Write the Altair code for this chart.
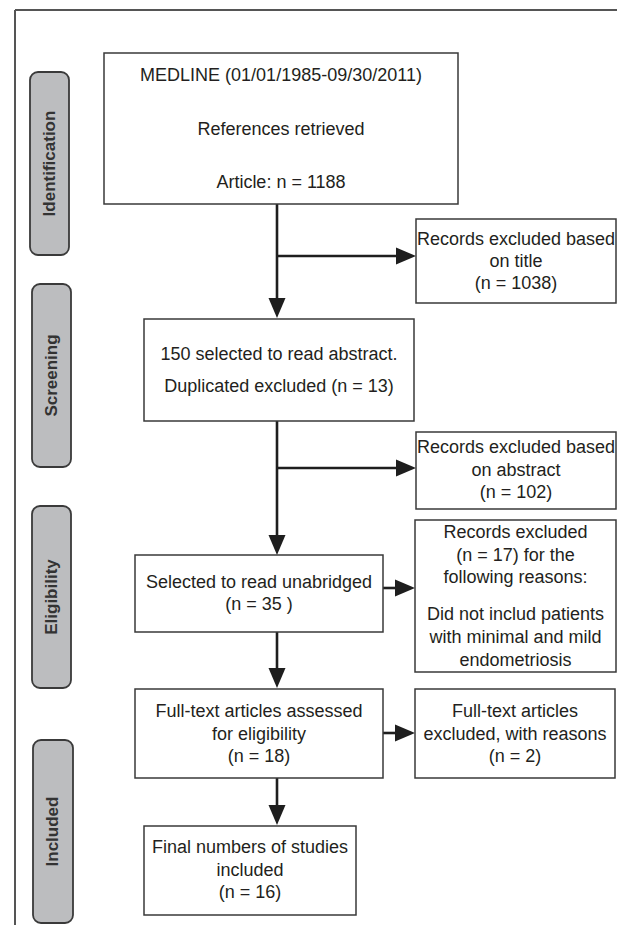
import altair as alt
import pandas as pd

# ---- content (text of the PRISMA flow diagram) ----
stage_labels = ["Identification", "Screening", "Eligibility", "Included"]

box_texts = [
    ["MEDLINE (01/01/1985-09/30/2011)", "References retrieved", "Article: n = 1188"],
    ["Records excluded based", "on title", "(n = 1038)"],
    ["150 selected to read abstract.", "Duplicated excluded (n = 13)"],
    ["Records excluded based", "on abstract", "(n = 102)"],
    ["Records excluded", "(n = 17) for the", "following reasons:",
     "Did not includ patients", "with minimal and mild", "endometriosis"],
    ["Selected to read unabridged", "(n = 35 )"],
    ["Full-text articles assessed", "for eligibility", "(n = 18)"],
    ["Full-text articles", "excluded, with reasons", "(n = 2)"],
    ["Final numbers of studies", "included", "(n = 16)"],
]

# ---- layout (page pixel coordinates) ----
stage_geom = [(30, 72, 69, 255), (32, 284, 71, 467), (32, 506, 71, 688), (33, 740, 73, 923)]
box_geom = [
    (104, 53, 458, 204),
    (416, 219, 616, 303),
    (144, 319, 414, 421),
    (416, 432, 616, 509),
    (415, 520, 616, 672),
    (135, 555, 383, 632),
    (135, 689, 383, 778),
    (415, 689, 615, 778),
    (144, 826, 356, 915),
]
line_ys = [
    [76, 130, 183],
    [240, 262, 284],
    [355, 387],
    [448, 471, 493],
    [533, 556, 578, 615, 638, 661],
    [583, 605],
    [712, 735, 757],
    [712, 735, 757],
    [848, 871, 893],
]
segments = [
    (277, 204, 277, 300), (277, 256, 398, 256),
    (277, 421, 277, 537), (277, 468, 398, 468),
    (383, 588, 397, 588),
    (277, 632, 277, 670), (383, 733, 397, 733),
    (277, 778, 277, 807),
]
heads_down = [(277, 308), (277, 545), (277, 678), (277, 815)]
heads_right = [(406, 256), (406, 468), (405, 588), (405, 733)]

# ---- build tables ----
stages = pd.DataFrame([
    dict(label=l, x=g[0], y=g[1], x2=g[2], y2=g[3], cx=(g[0] + g[2]) / 2, cy=(g[1] + g[3]) / 2)
    for l, g in zip(stage_labels, stage_geom)
])
boxes = pd.DataFrame([dict(x=g[0], y=g[1], x2=g[2], y2=g[3]) for g in box_geom])
rows = []
for texts, g, ys in zip(box_texts, box_geom, line_ys):
    for t, yy in zip(texts, ys):
        rows.append(dict(text=t, x=(g[0] + g[2]) / 2, y=yy))
lines = pd.DataFrame(rows)
segs = pd.DataFrame([dict(x=a, y=b, x2=c, y2=d) for a, b, c, d in segments])
hd = pd.DataFrame([dict(x=a, y=b) for a, b in heads_down])
hr = pd.DataFrame([dict(x=a, y=b) for a, b in heads_right])
frame = pd.DataFrame([dict(x=15, y=10, x2=15, y2=930), dict(x=15, y=10, x2=630, y2=10)])

W, H = 609, 917
xs = alt.Scale(domain=[8, 8 + W], nice=False, zero=False)
ys = alt.Scale(domain=[8, 8 + H], nice=False, zero=False, reverse=True)
X = lambda f: alt.X(f, type="quantitative", scale=xs, axis=None)
Y = lambda f: alt.Y(f, type="quantitative", scale=ys, axis=None)

frame_l = alt.Chart(frame).mark_rule(color="#555555", strokeWidth=2).encode(
    x=X("x"), y=Y("y"), x2="x2", y2="y2")

pills = alt.Chart(stages).mark_rect(
    fill="#bcbdbf", stroke="#3a3a3a", strokeWidth=1.8, cornerRadius=8).encode(
    x=X("x"), y=Y("y"), x2="x2", y2="y2")
pill_text = alt.Chart(stages).mark_text(
    angle=270, font="Liberation Sans", fontWeight="bold", fontSize=17,
    color="#333333", align="center", baseline="middle").encode(
    x=X("cx"), y=Y("cy"), text="label")

box_l = alt.Chart(boxes).mark_rect(fill="white", stroke="#3a3a3a", strokeWidth=1.5).encode(
    x=X("x"), y=Y("y"), x2="x2", y2="y2")
text_l = alt.Chart(lines).mark_text(
    font="Liberation Sans", fontSize=18, color="#231f20",
    align="center", baseline="middle").encode(
    x=X("x"), y=Y("y"), text="text")

seg_l = alt.Chart(segs).mark_rule(color="#1e1e1e", strokeWidth=2.6).encode(
    x=X("x"), y=Y("y"), x2="x2", y2="y2")
hd_l = alt.Chart(hd).mark_point(
    shape="M -0.85 -1 L 0.85 -1 L 0 1 Z", size=400, filled=True,
    color="#1e1e1e", opacity=1, strokeWidth=0).encode(x=X("x"), y=Y("y"))
hr_l = alt.Chart(hr).mark_point(
    shape="M -1 -0.85 L 1 0 L -1 0.85 Z", size=400, filled=True,
    color="#1e1e1e", opacity=1, strokeWidth=0).encode(x=X("x"), y=Y("y"))

chart = alt.layer(frame_l, pills, pill_text, seg_l, hd_l, hr_l, box_l, text_l).properties(
    width=W, height=H,
    padding=0,
    autosize=alt.AutoSizeParams(type="none"),
    background="white",
).configure_view(stroke=None)

chart.save("out.html", embed_options={"renderer": "svg", "actions": False})
